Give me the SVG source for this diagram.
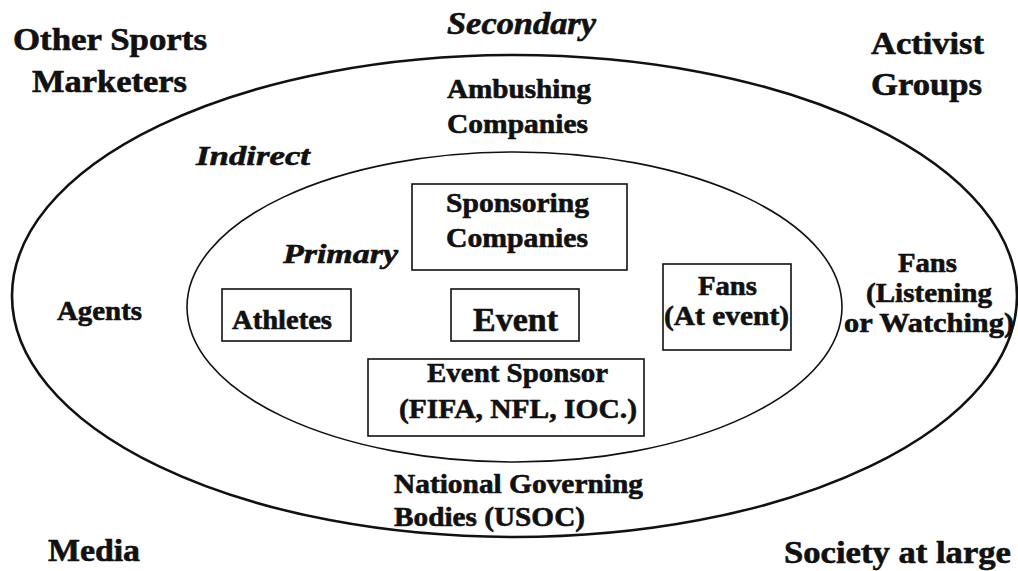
<svg xmlns="http://www.w3.org/2000/svg" width="1018" height="571" viewBox="0 0 1018 571">
<style>
text{font-family:"Liberation Serif","Times New Roman",serif;font-weight:bold;fill:#111;stroke:#111;stroke-width:0.6;}
.big{font-size:31px;}
.mid{font-size:28px;}
.it{font-style:italic;}
.box{fill:none;stroke:#111;stroke-width:1.6;}
.ring-outer{fill:none;stroke:#111;stroke-width:2.6;}
.ring-inner{fill:#fff;stroke:#111;stroke-width:1.6;}
</style>
<rect width="1018" height="571" fill="#fff"/>
<g id="rings">
<ellipse class="ring-outer" cx="514.5" cy="296" rx="502.5" ry="241"/>
<ellipse class="ring-inner" cx="514.5" cy="307" rx="327.5" ry="155"/>
</g>
<g id="connectors"/>
<g id="label-secondary"><text class="big it" x="447" y="34" textLength="149" lengthAdjust="spacingAndGlyphs">Secondary</text></g>
<g id="label-indirect"><text class="mid it" x="196" y="165" textLength="114" lengthAdjust="spacingAndGlyphs">Indirect</text></g>
<g id="label-primary"><text class="mid it" x="283" y="263" textLength="115" lengthAdjust="spacingAndGlyphs">Primary</text></g>
<g id="other-sports-marketers">
<text class="big" x="13" y="50" textLength="194" lengthAdjust="spacingAndGlyphs">Other Sports</text>
<text class="big" x="32" y="92" textLength="155" lengthAdjust="spacingAndGlyphs">Marketers</text>
</g>
<g id="activist-groups">
<text class="big" x="871" y="54" textLength="113" lengthAdjust="spacingAndGlyphs">Activist</text>
<text class="big" x="871" y="95" textLength="111" lengthAdjust="spacingAndGlyphs">Groups</text>
</g>
<g id="media"><text class="big" x="48" y="561" textLength="92" lengthAdjust="spacingAndGlyphs">Media</text></g>
<g id="society"><text class="big" x="784" y="563" textLength="227" lengthAdjust="spacingAndGlyphs">Society at large</text></g>
<g id="ambushing-companies">
<text class="mid" x="447" y="98" textLength="144" lengthAdjust="spacingAndGlyphs">Ambushing</text>
<text class="mid" x="447" y="133" textLength="141" lengthAdjust="spacingAndGlyphs">Companies</text>
</g>
<g id="agents"><text class="mid" x="57" y="320" textLength="85" lengthAdjust="spacingAndGlyphs">Agents</text></g>
<g id="fans-remote">
<text class="mid" x="898" y="272" textLength="59" lengthAdjust="spacingAndGlyphs">Fans</text>
<text class="mid" x="866" y="302" textLength="126" lengthAdjust="spacingAndGlyphs">(Listening</text>
<text class="mid" x="844" y="332" textLength="170" lengthAdjust="spacingAndGlyphs">or Watching)</text>
</g>
<g id="national-governing-bodies">
<text class="mid" x="394" y="493" textLength="249" lengthAdjust="spacingAndGlyphs">National Governing</text>
<text class="mid" x="394" y="526" textLength="191" lengthAdjust="spacingAndGlyphs">Bodies (USOC)</text>
</g>
<g id="sponsoring-companies">
<rect class="box" x="412" y="184" width="215" height="86"/>
<text class="mid" x="446" y="212" textLength="143" lengthAdjust="spacingAndGlyphs">Sponsoring</text>
<text class="mid" x="446" y="247" textLength="142" lengthAdjust="spacingAndGlyphs">Companies</text>
</g>
<g id="athletes">
<rect class="box" x="222" y="289" width="129" height="52"/>
<text class="mid" x="232" y="329" textLength="100" lengthAdjust="spacingAndGlyphs">Athletes</text>
</g>
<g id="event">
<rect class="box" x="451" y="289" width="128" height="52"/>
<text style="font-size:34px" x="473" y="331" textLength="85" lengthAdjust="spacingAndGlyphs">Event</text>
</g>
<g id="fans-at-event">
<rect class="box" x="663" y="264" width="128" height="86"/>
<text class="mid" x="698" y="295" textLength="59" lengthAdjust="spacingAndGlyphs">Fans</text>
<text class="mid" x="664" y="325" textLength="125" lengthAdjust="spacingAndGlyphs">(At event)</text>
</g>
<g id="event-sponsor">
<rect class="box" x="368" y="359" width="276" height="77"/>
<text class="mid" x="427" y="382" textLength="181" lengthAdjust="spacingAndGlyphs">Event Sponsor</text>
<text class="mid" x="399" y="418" textLength="238" lengthAdjust="spacingAndGlyphs">(FIFA, NFL, IOC.)</text>
</g>
</svg>
